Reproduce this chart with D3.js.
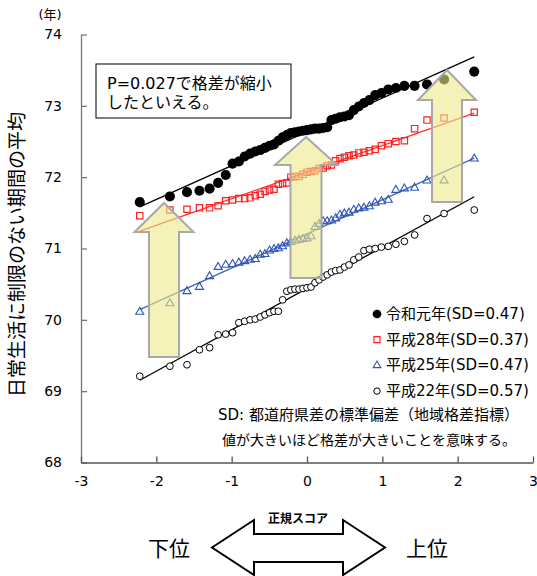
<!DOCTYPE html>
<html>
<head>
<meta charset="utf-8">
<script src="https://cdn.jsdelivr.net/npm/d3@7"></script>
<style>
  body { margin: 0; background: #fff; }
  text { font-family: "DejaVu Sans", "Noto Sans CJK JP", sans-serif; fill: #000; }
</style>
</head>
<body>
<svg id="chart" width="537" height="576"></svg>
<script>
// normal scores (same for every series, read from the x positions)
const zScores = [
  -2.220, -1.820, -1.593, -1.428, -1.293, -1.180, -1.079, -0.988, -0.905, -0.828,
  -0.756, -0.687, -0.621, -0.558, -0.497, -0.438, -0.380, -0.324, -0.268, -0.214,
  -0.160, -0.106, -0.053, 0.000, 0.053, 0.106, 0.160, 0.214, 0.268, 0.324,
  0.380, 0.438, 0.497, 0.558, 0.621, 0.687, 0.756, 0.828, 0.905, 0.988,
  1.079, 1.180, 1.293, 1.428, 1.593, 1.820, 2.220
];

const seriesNames = ["令和元年(SD=0.47)", "平成28年(SD=0.37)", "平成25年(SD=0.47)", "平成22年(SD=0.57)"];

const valuesR1 = [
  71.65, 71.73, 71.79, 71.81, 71.84, 71.92, 72.03, 72.19, 72.22, 72.29,
  72.33, 72.36, 72.38, 72.41, 72.44, 72.46, 72.51, 72.56, 72.59, 72.62,
  72.63, 72.64, 72.65, 72.66, 72.67, 72.68, 72.68, 72.69, 72.70, 72.80,
  72.82, 72.84, 72.85, 72.87, 72.94, 72.99, 73.04, 73.08, 73.15, 73.18,
  73.23, 73.25, 73.28, 73.28, 73.30, 73.37, 73.48
];
const valuesH28 = [
  71.46, 71.54, 71.55, 71.57, 71.57, 71.60, 71.67, 71.68, 71.70, 71.70,
  71.71, 71.74, 71.76, 71.80, 71.82, 71.83, 71.90, 71.91, 71.92, 72.00,
  72.01, 72.01, 72.04, 72.07, 72.08, 72.09, 72.12, 72.13, 72.16, 72.17,
  72.23, 72.26, 72.28, 72.30, 72.31, 72.34, 72.35, 72.37, 72.39, 72.44,
  72.47, 72.50, 72.51, 72.68, 72.80, 72.83, 72.91
];
const valuesH25 = [
  70.11, 70.23, 70.40, 70.46, 70.61, 70.74, 70.77, 70.78, 70.80, 70.82,
  70.84, 70.85, 70.91, 70.92, 70.97, 70.99, 71.00, 71.03, 71.07, 71.09,
  71.11, 71.12, 71.13, 71.14, 71.17, 71.30, 71.34, 71.38, 71.38, 71.39,
  71.42, 71.47, 71.49, 71.50, 71.54, 71.56, 71.57, 71.59, 71.64, 71.66,
  71.68, 71.82, 71.84, 71.85, 71.95, 71.95, 72.26
];
const valuesH22 = [
  69.21, 69.35, 69.37, 69.58, 69.61, 69.79, 69.80, 69.82, 69.96, 69.98,
  70.00, 70.01, 70.04, 70.07, 70.10, 70.12, 70.12, 70.28, 70.40, 70.42,
  70.43, 70.43, 70.44, 70.45, 70.46, 70.52, 70.56, 70.60, 70.63, 70.67,
  70.69, 70.70, 70.74, 70.77, 70.84, 70.88, 70.97, 70.99, 71.00, 71.02,
  71.03, 71.06, 71.10, 71.19, 71.42, 71.49, 71.54
];

const xTicks = [-3, -2, -1, 0, 1, 2, 3];
const yTicks = [68, 69, 70, 71, 72, 73, 74];

const svg = d3.select("#chart");

const x = d3.scaleLinear().domain([-3, 3]).range([81, 533]);
const y = d3.scaleLinear().domain([68, 74]).range([462.5, 34.5]);

// series styling
const series = [
  { name: seriesNames[0], values: valuesR1, line: "#000", symbol: d3.symbolCircle, size: 80, fill: "#000", stroke: "none", sw: 0 },
  { name: seriesNames[1], values: valuesH28, line: "#FF2A2A", symbol: d3.symbolSquare, size: 40, fill: "none", stroke: "#FF2020", sw: 1.2 },
  { name: seriesNames[2], values: valuesH25, line: "#3F63BE", symbol: d3.symbolTriangle, size: 28, fill: "none", stroke: "#2F55B5", sw: 1.1 },
  { name: seriesNames[3], values: valuesH22, line: "#000", symbol: d3.symbolCircle, size: 36, fill: "#fff", stroke: "#000", sw: 1 }
];

// axes
svg.append("g")
  .attr("transform", `translate(${x(-3)},0)`)
  .call(d3.axisLeft(y).tickValues(yTicks).tickFormat(d => String(d))
    .tickSizeInner(-6).tickSizeOuter(0).tickPadding(19))
  .call(g => g.selectAll("text").style("font-size", "14px"))
  .call(g => g.selectAll("path,line").attr("stroke", "#777").attr("stroke-width", 1.3));

svg.append("g")
  .attr("transform", `translate(0,${y(68)})`)
  .call(d3.axisBottom(x).tickValues(xTicks).tickFormat(d => String(d))
    .tickSizeInner(-6).tickSizeOuter(0).tickPadding(14))
  .call(g => g.selectAll("text").style("font-size", "14px"))
  .call(g => g.selectAll("path,line").attr("stroke", "#555").attr("stroke-width", 1.3));

// y axis title and unit
svg.append("text")
  .attr("transform", `translate(24,${(y(68) + y(74)) / 2 + 6}) rotate(-90)`)
  .attr("text-anchor", "middle")
  .style("font-family", "'Noto Sans CJK JP'")
  .style("font-size", "19px")
  .text("日常生活に制限のない期間の平均");

svg.append("text")
  .attr("x", 50).attr("y", 19)
  .attr("text-anchor", "middle")
  .style("font-size", "13px")
  .text("(年)");

// regression lines and points
const fit = (vals) => {
  const mx = d3.mean(zScores), my = d3.mean(vals);
  let sxy = 0, sxx = 0;
  zScores.forEach((z, i) => { sxy += (z - mx) * (vals[i] - my); sxx += (z - mx) * (z - mx); });
  const b = sxy / sxx;
  return z => my + b * (z - mx);
};

const plot = svg.append("g");
series.forEach(s => {
  const f = fit(s.values);
  const z0 = d3.min(zScores), z1 = d3.max(zScores);
  plot.append("line")
    .attr("x1", x(z0)).attr("y1", y(f(z0)))
    .attr("x2", x(z1)).attr("y2", y(f(z1)))
    .attr("stroke", s.line)
    .attr("stroke-width", 1.3);
});
series.forEach(s => {
  plot.append("g")
    .selectAll("path")
    .data(s.values.map((v, i) => ({ z: zScores[i], v })))
    .join("path")
    .attr("transform", d => `translate(${x(d.z)},${y(d.v)})`)
    .attr("d", d3.symbol(s.symbol, s.size))
    .attr("fill", s.fill)
    .attr("stroke", s.stroke)
    .attr("stroke-width", s.sw);
});

// yellow block arrows (drawn over the points, semi transparent)
const blockArrow = (cx, tipY, headY, bottomY, headW, shaftW) => {
  const h = headW / 2, s = shaftW / 2;
  return `M${cx},${tipY} L${cx + h},${headY} L${cx + s},${headY} L${cx + s},${bottomY}` +
    ` L${cx - s},${bottomY} L${cx - s},${headY} L${cx - h},${headY} Z`;
};
const arrows = [
  { cx: 164, tip: 203, head: 232, bottom: 357, hw: 59, sw: 30 },
  { cx: 306, tip: 137, head: 165, bottom: 278, hw: 62, sw: 31 },
  { cx: 447, tip: 70, head: 100, bottom: 202, hw: 58, sw: 30 }
];
svg.append("g")
  .selectAll("path")
  .data(arrows)
  .join("path")
  .attr("d", d => blockArrow(d.cx, d.tip, d.head, d.bottom, d.hw, d.sw))
  .attr("fill", "#EDE98A")
  .attr("fill-opacity", 0.6)
  .attr("stroke", "#A8A8A8")
  .attr("stroke-width", 2);

// note box
svg.append("rect")
  .attr("x", 96).attr("y", 64).attr("width", 195).attr("height", 54)
  .attr("fill", "#fff").attr("stroke", "#000").attr("stroke-width", 1);
svg.append("text").attr("x", 107).attr("y", 89).style("font-size", "16px").text("P=0.027で格差が縮小");
svg.append("text").attr("x", 107).attr("y", 108).style("font-size", "16px").text("したといえる。");

// legend
const legend = svg.append("g");
series.forEach((s, i) => {
  const ly = 314 + i * 25.7;
  legend.append("path")
    .attr("transform", `translate(377,${ly})`)
    .attr("d", d3.symbol(s.symbol, i === 0 ? 60 : s.size * 0.9))
    .attr("fill", s.fill)
    .attr("stroke", s.stroke)
    .attr("stroke-width", s.sw);
  legend.append("text")
    .attr("x", 386).attr("y", ly + 5)
    .style("font-size", "15px")
    .text(s.name);
});

// SD note
svg.append("text").attr("x", 218).attr("y", 420).style("font-size", "15px")
  .text("SD: 都道府県差の標準偏差（地域格差指標）");
svg.append("text").attr("x", 222).attr("y", 445).style("font-size", "14px")
  .text("値が大きいほど格差が大きいことを意味する。");

// bottom double arrow
const ax0 = 212, ax1 = 385, ah = 42, ayTop = 520, ayBot = 575, asTop = 534, asBot = 562;
const ayMid = (ayTop + ayBot) / 2;
svg.append("path")
  .attr("d", `M${ax0},${ayMid} L${ax0 + ah},${ayTop} L${ax0 + ah},${asTop} L${ax1 - ah},${asTop} L${ax1 - ah},${ayTop}` +
    ` L${ax1},${ayMid} L${ax1 - ah},${ayBot} L${ax1 - ah},${asBot} L${ax0 + ah},${asBot} L${ax0 + ah},${ayBot} Z`)
  .attr("fill", "#fff")
  .attr("stroke", "#000")
  .attr("stroke-width", 2);

svg.append("text").attr("x", 298).attr("y", 523).attr("text-anchor", "middle")
  .style("font-size", "12px").style("font-weight", "bold").text("正規スコア");
svg.append("text").attr("x", 169).attr("y", 556).attr("text-anchor", "middle")
  .style("font-size", "21px").text("下位");
svg.append("text").attr("x", 427).attr("y", 556).attr("text-anchor", "middle")
  .style("font-size", "21px").text("上位");
</script>
</body>
</html>
